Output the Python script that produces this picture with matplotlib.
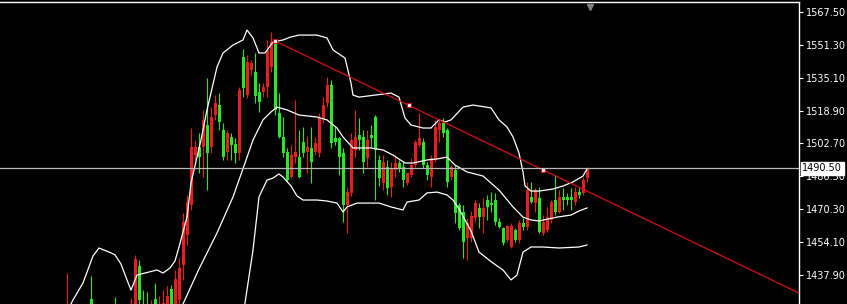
import matplotlib.pyplot as plt
import matplotlib.transforms as mtransforms

# bar index (one bar every 4 px) and OHLC prices
bars = [0, 6, 12, 16, 17, 18, 19, 20, 21, 22, 23, 24, 25, 26, 27, 28, 29, 30,
        31, 32, 33, 34, 35, 36, 37, 38, 39, 40, 41, 42, 43, 44, 45, 46, 47, 48,
        49, 50, 51, 52, 53, 54, 55, 56, 57, 58, 59, 60, 61, 62, 63, 64, 65, 66,
        67, 68, 69, 70, 71, 72, 73, 74, 75, 76, 77, 78, 79, 80, 81, 82, 83, 84,
        85, 86, 87, 88, 89, 90, 91, 92, 93, 94, 95, 96, 97, 98, 99, 100, 101,
        102, 103, 104, 105, 106, 107, 108, 109, 110, 111, 112, 113, 114, 115,
        116, 117, 118, 119, 120, 121, 122, 123, 124, 125, 126, 127, 128, 129, 130]
opens = [1411.0, 1426.2, 1420.8, 1413.4, 1420.8, 1442.5, 1420.8, 1421.8, 1414.0, 1426.2,
         1415.0, 1415.0, 1420.8, 1431.2, 1420.8, 1425.8, 1442.9, 1457.7,
         1472.4, 1497.0, 1501.0, 1501.0, 1511.8, 1501.0, 1516.7, 1521.6, 1509.3, 1498.5,
         1505.9, 1502.4, 1498.0, 1545.2, 1526.5, 1538.8, 1537.8, 1528.0,
         1528.0, 1530.5, 1540.3, 1552.6, 1517.7, 1505.9, 1498.5, 1486.2, 1496.0, 1496.0,
         1503.4, 1498.5, 1500.5, 1498.5, 1498.0, 1514.3, 1522.6, 1531.5,
         1505.4, 1505.4, 1498.0, 1472.4, 1478.3, 1499.5, 1506.9, 1505.9, 1495.6, 1506.9,
         1515.7, 1494.6, 1483.3, 1491.1, 1481.3, 1489.7, 1493.1, 1491.1,
         1483.3, 1487.2, 1492.1, 1502.0, 1503.4, 1492.1, 1486.2, 1494.6, 1509.3, 1512.8,
         1509.3, 1486.2, 1489.7, 1472.4, 1469.0, 1456.2, 1456.2,
         1466.0, 1471.0, 1466.5, 1474.9, 1473.4, 1474.9, 1464.1, 1461.1, 1455.2, 1451.8,
         1460.2, 1455.2, 1463.6, 1461.6,
         1476.4, 1473.4, 1475.9, 1458.7, 1460.2, 1465.1, 1474.9, 1469.0, 1476.4, 1476.4,
         1476.4, 1473.9, 1478.8, 1478.3, 1485.7]
highs = [1439.0, 1437.5, 1427.2, 1426.7, 1447.9, 1445.4, 1430.6, 1429.7, 1425.8, 1434.1,
         1427.7, 1430.6, 1432.6, 1433.1, 1440.5, 1446.4, 1468.5, 1477.4,
         1510.3, 1504.4, 1507.9, 1519.2, 1534.9, 1520.6, 1526.5, 1527.5, 1512.8, 1509.3,
         1507.9, 1505.4, 1530.5, 1549.2, 1546.2, 1543.7, 1547.2, 1532.4,
         1532.4, 1553.6, 1557.5, 1553.6, 1527.5, 1515.7, 1500.5, 1502.0, 1524.1, 1509.3,
         1510.8, 1506.4, 1510.8, 1505.9, 1517.7, 1525.5, 1535.4, 1533.9,
         1510.8, 1505.9, 1500.5, 1481.3, 1507.9, 1519.2, 1515.2, 1509.3, 1509.3, 1511.8,
         1516.7, 1497.0, 1497.0, 1494.6, 1493.6, 1497.0, 1494.6, 1493.6,
         1488.7, 1495.6, 1504.4, 1517.7, 1505.4, 1493.6, 1497.0, 1514.3, 1514.3, 1515.2,
         1510.3, 1492.1, 1492.1, 1473.4, 1472.4, 1466.0, 1469.5,
         1474.9, 1473.4, 1475.9, 1477.4, 1478.8, 1478.3, 1466.0, 1461.6, 1462.6, 1463.6,
         1461.1, 1465.1, 1466.0, 1483.8,
         1483.8, 1480.8, 1481.3, 1467.5, 1471.5, 1474.9, 1487.2, 1479.8, 1480.8, 1478.3,
         1480.8, 1481.3, 1480.8, 1486.2, 1491.1]
lows = [1406.1, 1411.0, 1408.0, 1410.0, 1415.0, 1418.0, 1412.0, 1412.0, 1410.0, 1414.0,
        1412.0, 1412.0, 1416.0, 1416.0, 1417.0, 1423.3, 1435.6, 1452.8,
        1470.0, 1494.6, 1488.2, 1486.2, 1479.8, 1498.0, 1514.3, 1509.3, 1494.6, 1494.6,
        1494.6, 1493.1, 1494.6, 1525.5, 1525.0, 1536.4, 1522.6, 1518.2,
        1525.5, 1525.5, 1537.8, 1516.7, 1505.4, 1496.0, 1483.8, 1485.7, 1493.1, 1485.7,
        1496.0, 1488.2, 1483.3, 1497.0, 1496.0, 1512.8, 1520.6, 1500.5,
        1502.0, 1487.2, 1464.1, 1458.7, 1476.9, 1496.0, 1499.5, 1488.2, 1491.1, 1501.0,
        1474.9, 1481.8, 1479.8, 1477.4, 1476.4, 1486.2, 1488.7, 1481.3,
        1482.3, 1486.2, 1491.1, 1501.0, 1490.6, 1484.7, 1481.3, 1493.6, 1503.4, 1505.9,
        1481.3, 1484.7, 1463.6, 1460.2, 1446.4, 1445.4, 1454.3,
        1464.1, 1461.1, 1458.7, 1465.1, 1469.0, 1462.6, 1461.1, 1452.8, 1454.3, 1451.3,
        1454.3, 1453.8, 1460.2, 1460.2,
        1473.4, 1469.0, 1458.7, 1457.7, 1459.2, 1463.6, 1467.5, 1468.5, 1470.0, 1472.4,
        1470.0, 1472.4, 1475.9, 1477.4, 1483.8]
closes = [1420.8, 1415.9, 1413.4, 1420.8, 1445.9, 1425.8, 1415.9, 1416.9, 1420.8, 1418.4,
          1423.3, 1424.3, 1427.7, 1420.8, 1436.1, 1441.5, 1464.1, 1473.9,
          1501.0, 1501.0, 1496.0, 1514.3, 1498.0, 1515.7, 1522.6, 1513.3, 1496.0, 1507.9,
          1502.0, 1498.0, 1529.0, 1530.0, 1542.8, 1542.3, 1526.0, 1523.1,
          1530.5, 1548.7, 1552.6, 1519.2, 1505.9, 1498.0, 1484.7, 1497.0, 1498.5, 1486.2,
          1498.0, 1501.0, 1493.6, 1502.9, 1515.2, 1521.6, 1531.5, 1502.9,
          1503.4, 1496.0, 1472.4, 1478.8, 1504.4, 1505.9, 1504.4, 1493.6, 1504.4, 1505.4,
          1499.5, 1485.7, 1493.6, 1480.8, 1490.6, 1493.1, 1490.6, 1484.7,
          1488.2, 1492.1, 1503.4, 1505.4, 1492.1, 1487.2, 1495.6, 1510.8, 1512.8, 1507.9,
          1483.8, 1491.1, 1468.5, 1461.1, 1454.3, 1463.6, 1467.0,
          1473.4, 1466.5, 1471.0, 1471.5, 1472.4, 1464.1, 1461.6, 1453.8, 1462.1, 1462.1,
          1455.2, 1463.6, 1461.6, 1479.8,
          1473.9, 1479.8, 1459.2, 1464.1, 1466.5, 1473.9, 1469.0, 1476.4, 1474.9, 1474.9,
          1474.9, 1478.8, 1477.4, 1484.7, 1490.5]

# Bollinger bands, read at a number of bars
upper_x = [0, 1.5, 4, 6.5, 8, 11, 12, 13.5, 15, 16, 17.5, 19.5, 22.5, 24, 25.75, 27, 28,
           30, 31, 32.5, 33.5, 35, 37.5, 39, 41.5, 44, 45, 46.5, 48, 49.5, 51.5, 54, 56,
           58, 62.5, 65, 66.5, 69.5, 71, 71.5, 73, 81, 83, 84.5, 86, 89, 91, 93, 94.5,
           96, 99, 101.5, 106, 108, 110, 111.5, 113, 114, 114.5, 116, 118, 121.5, 124,
           126.5, 129, 130]
upper_y = [1419.8, 1425.8, 1434.1, 1447.4, 1451.3, 1448.9, 1447.9, 1443.4, 1435.6, 1430.6,
           1438.0, 1439.0, 1440.5, 1439.0, 1441.5, 1444.9, 1451.8, 1466.5, 1483.3, 1496.0,
           1504.4, 1519.2, 1540.3, 1547.2, 1551.1, 1553.6, 1558.5, 1554.6, 1547.2, 1547.2,
           1552.6, 1553.6, 1555.1, 1556.0, 1556.0, 1554.6, 1548.7, 1544.7, 1532.4, 1526.5,
           1525.5, 1527.5, 1525.5, 1515.2, 1511.8, 1510.3, 1510.3, 1514.3, 1513.3, 1514.3,
           1520.6, 1521.6, 1520.2, 1514.3, 1510.8, 1505.9, 1498.0, 1488.7, 1481.8, 1479.3,
           1479.3, 1480.3, 1481.8, 1483.8, 1486.7, 1490.2]
mid_x = [28, 29, 33, 37.5, 41.5, 44.5, 46.5, 49, 51, 52.5, 55, 58, 62.5, 65, 67.5, 69,
         71.5, 76, 79, 81.5, 84.5, 86.5, 90, 92.5, 95, 97, 100, 104, 108, 111.5, 114,
         116, 118, 122.5, 126, 128, 130]
mid_y = [1419.8, 1423.8, 1441.0, 1458.7, 1476.4, 1493.1, 1504.4, 1514.3, 1518.2, 1520.6,
         1519.2, 1516.7, 1515.7, 1514.3, 1510.3, 1505.9, 1500.5, 1500.5, 1499.5, 1497.0,
         1493.1, 1493.1, 1494.6, 1495.1, 1496.0, 1492.1, 1488.7, 1486.7, 1479.8, 1471.5,
         1466.5, 1465.1, 1464.6, 1466.5, 1467.5, 1469.5, 1471.0]
lower_x = [44.25, 46.5, 48, 50, 51.5, 53, 54, 56, 57.5, 59, 62.5, 65, 67.5, 69, 70, 72.5,
           75, 78, 81, 84, 85, 88, 90, 92.5, 95, 96.5, 98, 99.5, 101, 103, 106.5, 109,
           111, 112.5, 114, 116, 119, 123, 128, 130]
lower_y = [1421.0, 1450.3, 1476.4, 1484.7, 1485.7, 1487.7, 1486.2, 1481.8, 1476.9, 1474.9,
           1474.9, 1474.4, 1473.4, 1469.0, 1471.5, 1473.4, 1473.4, 1473.4, 1471.5, 1470.0,
           1473.9, 1474.9, 1478.4, 1478.8, 1477.4, 1474.9, 1470.5, 1465.1, 1459.7, 1449.3,
           1443.9, 1440.5, 1435.6, 1438.0, 1449.3, 1451.8, 1451.8, 1451.3, 1451.8, 1452.8]

# trend line anchors (bar, price)
trend_x = [52, 119]
trend_y = [1553.1, 1489.7]
last_price = 1490.50
price_ticks = [1567.50, 1551.30, 1535.10, 1518.90, 1502.70, 1486.50, 1470.30, 1454.10, 1437.90]

fig = plt.figure(figsize=(8.47, 3.04), dpi=100, facecolor='black')
ax = fig.add_axes([0, 0, 799 / 847, 302 / 304])
ax.set_facecolor('black')

up_col = '#ea1c1c'
dn_col = '#28e628'
for b, o, h, l, c in zip(bars, opens, highs, lows, closes):
    col = up_col if c >= o else dn_col
    ax.vlines(b, l, h, color=col, linewidth=0.8)
    hgt = max(abs(c - o), 0.4)
    ax.bar(b, hgt, bottom=min(o, c), width=0.75, color=col, linewidth=0)

ax.plot(upper_x, upper_y, color='white', linewidth=0.9)
ax.plot(mid_x, mid_y, color='white', linewidth=0.9)
ax.plot(lower_x, lower_y, color='white', linewidth=0.9)

# trend line, extended to the right edge
xmin, xmax = -16.75, 183.0
slope = (trend_y[1] - trend_y[0]) / (trend_x[1] - trend_x[0])
ax.plot([trend_x[0], xmax], [trend_y[0], trend_y[0] + slope * (xmax - trend_x[0])],
        color='#d41010', linewidth=0.9)
mid_t = (trend_x[0] + trend_x[1]) / 2
for tx in [trend_x[0], mid_t, trend_x[1]]:
    ty = trend_y[0] + slope * (tx - trend_x[0])
    ax.plot(tx, ty, marker='s', markersize=3.5, markerfacecolor='white',
            markeredgecolor='#d41010', markeredgewidth=0.8)

ax.axhline(last_price, color='#b8b8b8', linewidth=0.9)

ax.set_xlim(xmin, xmax)
ax.set_ylim(1423.77, 1572.27)

ax.set_xticks([])
ax.yaxis.tick_right()
ax.set_yticks(price_ticks)
ax.set_yticklabels(['%.2f' % p for p in price_ticks])
ax.tick_params(axis='y', colors='white', labelsize=7, length=3, width=0.8, pad=2)
for s in ['left', 'bottom']:
    ax.spines[s].set_visible(False)
for s in ['top', 'right']:
    ax.spines[s].set_color('white')
    ax.spines[s].set_linewidth(1)

# current price tag on the axis
trans = mtransforms.blended_transform_factory(ax.transAxes, ax.transData)
ax.text(1.004, last_price, '%.2f' % last_price, transform=trans, ha='left', va='center',
        color='black', fontsize=7,
        bbox=dict(facecolor='white', edgecolor='white', pad=0.6, boxstyle='square,pad=0.15'))

# chart shift marker at the top
ax.plot(130.75, 0.985, marker='v', markersize=5, color='#808080',
        transform=mtransforms.blended_transform_factory(ax.transData, ax.transAxes),
        clip_on=False)

fig.savefig('out.png', dpi=100, facecolor='black')
